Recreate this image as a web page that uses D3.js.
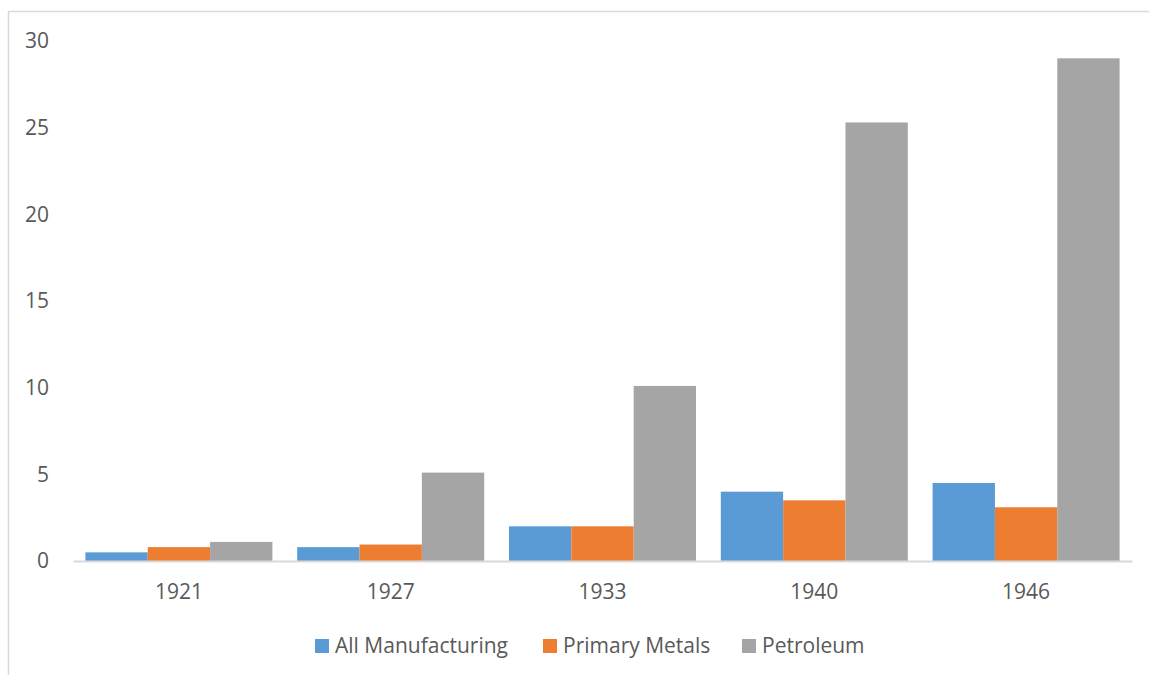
<!DOCTYPE html>
<html>
<head>
<meta charset="utf-8">
<script src="https://cdn.jsdelivr.net/npm/d3@7"></script>
<style>
  html, body { margin: 0; padding: 0; background: #fff; }
  svg { display: block; font-family: "Open Sans", sans-serif; }
</style>
</head>
<body>
<svg id="chart" width="1149" height="675"></svg>
<script>
// Category labels (years) and series values
const years = ["1921", "1927", "1933", "1940", "1946"];
const seriesNames = ["All Manufacturing", "Primary Metals", "Petroleum"];
const allManufacturing = [0.5, 0.8, 2.0, 4.0, 4.5];
const primaryMetals = [0.8, 0.95, 2.0, 3.5, 3.1];
const petroleum = [1.1, 5.1, 10.1, 25.3, 29.0];
const yTicks = [0, 5, 10, 15, 20, 25, 30];
const colors = ["#5B9BD5", "#ED7D31", "#A5A5A5"];

const seriesValues = [allManufacturing, primaryMetals, petroleum];
const rows = years.map((y, i) => ({
  year: y,
  values: seriesNames.map((name, s) => ({ name, value: seriesValues[s][i], s }))
}));

const svg = d3.select("#chart");
const W = 1149, H = 675;
const margin = { left: 73, right: 17, top: 41, bottom: 114 };
const fontSize = "21px";
const textColor = "#595959";

// Chart frame
svg.append("rect")
  .attr("x", 8.5).attr("y", 11.5)
  .attr("width", W + 10).attr("height", H + 10)
  .attr("fill", "none").attr("stroke", "#d9d9d9").attr("stroke-width", 1.5);

const x0 = d3.scaleBand()
  .domain(years)
  .range([margin.left, W - margin.right])
  .paddingInner(0.117)
  .paddingOuter(0.0585);

const x1 = d3.scaleBand()
  .domain(seriesNames)
  .range([0, x0.bandwidth()]);

const y = d3.scaleLinear()
  .domain([0, 30])
  .range([H - margin.bottom, margin.top]);

// Bars
const groups = svg.append("g").selectAll("g")
  .data(rows)
  .join("g")
  .attr("transform", d => `translate(${x0(d.year)},0)`);

groups.selectAll("rect")
  .data(d => d.values)
  .join("rect")
  .attr("x", d => x1(d.name))
  .attr("y", d => y(d.value))
  .attr("width", x1.bandwidth())
  .attr("height", d => y(0) - y(d.value))
  .attr("fill", d => colors[d.s]);

// Y axis (labels only)
const yAxis = svg.append("g")
  .attr("transform", `translate(${margin.left - 24},0)`)
  .call(d3.axisLeft(y).tickValues(yTicks).tickSize(0).tickPadding(0));
yAxis.select(".domain").remove();
yAxis.selectAll("text")
  .attr("fill", textColor)
  .style("font-size", fontSize)
  .style("font-family", "'Open Sans', sans-serif");

// X axis baseline and labels
const xAxis = svg.append("g")
  .attr("transform", `translate(0,${y(0)})`)
  .call(d3.axisBottom(x0).tickSize(0).tickPadding(23));
xAxis.select(".domain")
  .attr("stroke", "#d9d9d9").attr("stroke-width", 2);
xAxis.selectAll("text")
  .attr("fill", textColor)
  .style("font-size", fontSize)
  .style("font-family", "'Open Sans', sans-serif");

// Legend
const legendY = 646;
const legendX = [315, 543, 742];
const legend = svg.append("g").selectAll("g")
  .data(seriesNames)
  .join("g")
  .attr("transform", (d, i) => `translate(${legendX[i]},${legendY})`);
legend.append("rect")
  .attr("x", 0).attr("y", -7)
  .attr("width", 14).attr("height", 14)
  .attr("fill", (d, i) => colors[i]);
legend.append("text")
  .attr("x", 20).attr("y", 0)
  .attr("dy", "0.35em")
  .attr("fill", textColor)
  .style("font-size", fontSize)
  .text(d => d);
</script>
</body>
</html>
